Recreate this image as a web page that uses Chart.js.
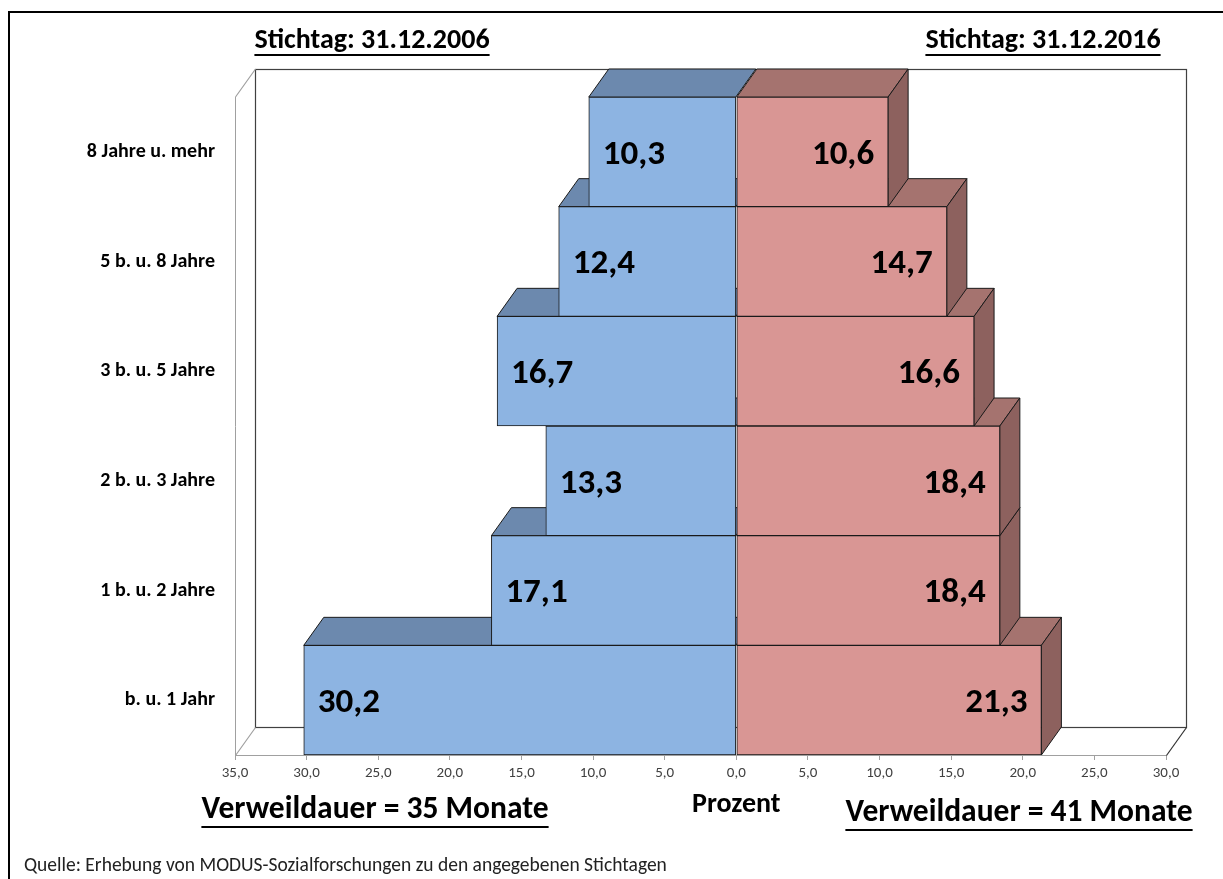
<!DOCTYPE html>
<html>
<head>
<meta charset="utf-8">
<script src="https://cdn.jsdelivr.net/npm/chart.js@4/dist/chart.umd.min.js"></script>
<style>
html,body{margin:0;padding:0;background:#fff;}
#wrap{width:1223px;height:879px;position:relative;}
</style>
</head>
<body>
<div id="wrap"><canvas id="c" width="1223" height="879"></canvas></div>
<script>
// ---- data ----
const categories = ['8 Jahre u. mehr', '5 b. u. 8 Jahre', '3 b. u. 5 Jahre', '2 b. u. 3 Jahre', '1 b. u. 2 Jahre', 'b. u. 1 Jahr'];
const values2006 = [10.3, 12.4, 16.7, 13.3, 17.1, 30.2];
const values2016 = [10.6, 14.7, 16.6, 18.4, 18.4, 21.3];
const xMin = -35, xMax = 30, xStep = 5;
const titleLeft = 'Stichtag: 31.12.2006';
const titleRight = 'Stichtag: 31.12.2016';
const noteLeft = 'Verweildauer = 35 Monate';
const noteRight = 'Verweildauer = 41 Monate';
const axisTitle = 'Prozent';
const source = 'Quelle: Erhebung von MODUS-Sozialforschungen zu den angegebenen Stichtagen';

const FONT = "Carlito, Lato, 'Liberation Sans', sans-serif";
const DX = 20, DY = -28;
const fmt = v => Math.abs(v).toFixed(1).replace('.', ',');

const colors = {
  blueFront: '#8DB4E2', blueTop: '#6C89AE',
  redFront: '#D99694', redTop: '#A5736F', redSide: '#8D615E',
  edge: '#1a1a1a'
};

function poly(ctx, pts, fill) {
  ctx.beginPath();
  ctx.moveTo(pts[0][0], pts[0][1]);
  for (let i = 1; i < pts.length; i++) ctx.lineTo(pts[i][0], pts[i][1]);
  ctx.closePath();
  ctx.fillStyle = fill;
  ctx.fill();
  ctx.strokeStyle = colors.edge;
  ctx.lineWidth = 1;
  ctx.stroke();
}

const depthPlugin = {
  id: 'depth',
  beforeDraw(chart) {
    const ctx = chart.ctx;
    ctx.save();
    ctx.fillStyle = '#fff';
    ctx.fillRect(0, 0, chart.width, chart.height);
    ctx.strokeStyle = '#000';
    ctx.lineWidth = 2;
    ctx.strokeRect(9, 12, chart.width + 20, chart.height + 20);
    ctx.restore();
  },
  beforeDatasetsDraw(chart) {
    const ctx = chart.ctx;
    const a = chart.chartArea;
    ctx.save();
    ctx.strokeStyle = '#404040';
    ctx.lineWidth = 1.2;
    ctx.strokeRect(a.left + DX + 0.5, a.top + DY + 0.5, a.right - a.left, a.bottom - a.top);
    ctx.strokeStyle = '#a0a0a0';
    ctx.beginPath();
    ctx.moveTo(a.left + 0.5, a.top); ctx.lineTo(a.left + DX + 0.5, a.top + DY);
    ctx.moveTo(a.left + 0.5, a.bottom + 0.5); ctx.lineTo(a.left + DX + 0.5, a.bottom + DY + 0.5);
    ctx.stroke();
    ctx.strokeStyle = '#303030';
    ctx.beginPath();
    ctx.moveTo(a.right + 0.5, a.bottom + 0.5); ctx.lineTo(a.right + DX + 0.5, a.bottom + DY + 0.5);
    ctx.stroke();

    const m0 = chart.getDatasetMeta(0), m1 = chart.getDatasetMeta(1);
    const n = m0.data.length;
    for (let i = n - 1; i >= 0; i--) {
      [[m0, colors.blueTop, null], [m1, colors.redTop, colors.redSide]].forEach(([meta, topC, sideC]) => {
        const el = meta.data[i];
        const p = el.getProps(['x', 'y', 'base', 'height'], true);
        const l = Math.min(p.x, p.base), r = Math.max(p.x, p.base);
        const t = p.y - p.height / 2, b = p.y + p.height / 2;
        poly(ctx, [[l, t], [r, t], [r + DX, t + DY], [l + DX, t + DY]], topC);
        if (sideC && p.x > p.base) {
          poly(ctx, [[r, t], [r + DX, t + DY], [r + DX, b + DY], [r, b]], sideC);
        }
      });
    }
    ctx.restore();
  },
  afterDatasetsDraw(chart) {
    const ctx = chart.ctx;
    ctx.save();
    ctx.fillStyle = '#000';
    ctx.font = 'bold 35px ' + FONT;
    ctx.textBaseline = 'middle';
    chart.data.datasets.forEach((ds, di) => {
      const meta = chart.getDatasetMeta(di);
      meta.data.forEach((el, i) => {
        const p = el.getProps(['x', 'y', 'base'], true);
        const v = ds.data[i];
        if (p.x < p.base) { ctx.textAlign = 'left'; ctx.fillText(fmt(v), p.x + 14, p.y + 3); }
        else { ctx.textAlign = 'right'; ctx.fillText(fmt(v), p.x - 14, p.y + 3); }
      });
    });
    ctx.restore();
  },
  afterDraw(chart) {
    const ctx = chart.ctx;
    const xs = chart.scales.x;
    ctx.save();
    ctx.fillStyle = '#000';
    ctx.textBaseline = 'middle';
    ctx.textAlign = 'center';
    function underlined(text, cx, cy, size, uy) {
      ctx.font = 'bold ' + size + 'px ' + FONT;
      ctx.fillText(text, cx, cy);
      const w = ctx.measureText(text).width;
      ctx.fillRect(cx - w / 2, uy, w, 2);
    }
    underlined(titleLeft, 372, 41, 28, 54);
    underlined(titleRight, 1043, 41, 28, 54);
    underlined(noteLeft, 375, 810, 31.5, 826);
    underlined(noteRight, 1019, 813, 31.5, 829);
    ctx.font = 'bold 28px ' + FONT;
    ctx.fillText(axisTitle, xs.getPixelForValue(0), 805);
    ctx.textAlign = 'left';
    ctx.font = '19.5px ' + FONT;
    ctx.fillStyle = '#222';
    ctx.fillText(source, 24, 866);
    ctx.restore();
  }
};

new Chart(document.getElementById('c'), {
  type: 'bar',
  data: {
    labels: categories,
    datasets: [
      { label: '2006', data: values2006.map(v => -v), backgroundColor: colors.blueFront, borderColor: colors.edge, borderWidth: 1, borderSkipped: false },
      { label: '2016', data: values2016, backgroundColor: colors.redFront, borderColor: colors.edge, borderWidth: 1, borderSkipped: false }
    ]
  },
  options: {
    indexAxis: 'y',
    responsive: false,
    animation: false,
    devicePixelRatio: 1,
    layout: { padding: { top: 97, right: 57, left: 0, bottom: 0 } },
    plugins: { legend: { display: false }, tooltip: { enabled: false } },
    datasets: { bar: { barPercentage: 1, categoryPercentage: 1 } },
    scales: {
      x: {
        stacked: true,
        min: xMin, max: xMax,
        afterFit(s) { s.height = 124; },
        ticks: { stepSize: xStep, font: { family: FONT, size: 15 }, color: '#404040', padding: 4, maxRotation: 0, callback: v => fmt(v) },
        grid: { display: true, drawOnChartArea: false, drawTicks: true, tickLength: 5, color: '#a0a0a0' },
        border: { display: true, color: '#a0a0a0' }
      },
      y: {
        stacked: true,
        afterFit(s) { s.width = 235; },
        ticks: { font: { family: FONT, size: 20, weight: 'bold' }, color: '#000', padding: 20 },
        grid: { display: false, drawTicks: false },
        border: { display: true, color: '#a0a0a0' }
      }
    }
  },
  plugins: [depthPlugin]
});
</script>
</body>
</html>
